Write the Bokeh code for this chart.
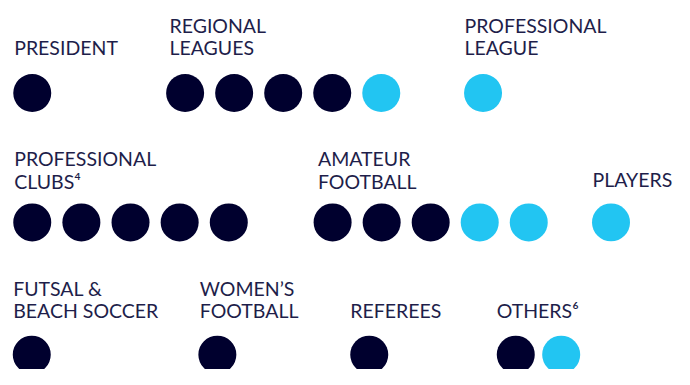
from bokeh.plotting import figure
from bokeh.models import Range1d, ColumnDataSource
from bokeh.core.properties import value
from bokeh.embed import file_html
from bokeh.resources import INLINE

# ---- data ----
categories = ["PRESIDENT", "REGIONAL\nLEAGUES", "PROFESSIONAL\nLEAGUE",
              "PROFESSIONAL\nCLUBS\u2074", "AMATEUR\nFOOTBALL", "PLAYERS",
              "FUTSAL &\nBEACH SOCCER", "WOMEN\u2019S\nFOOTBALL", "REFEREES", "OTHERS\u2076"]
dark_seats = [1, 4, 0, 5, 3, 0, 1, 1, 1, 1]
light_seats = [0, 1, 1, 0, 2, 1, 0, 0, 0, 1]

# ---- layout (reference-image pixel coordinates, 690 x 385) ----
group_row = [0, 0, 0, 1, 1, 1, 2, 2, 2, 2]
group_x = [32.5, 189, 494, 32.5, 340, 625, 32, 222, 377.5, 527.5]   # first dot centre
dot_step = [50.2, 50.2, 50.2, 50.3, 50.2, 50.2, 50.2, 50.2, 50.2, 46.5]
label_x = [14, 173, 475, 14, 325, 606, 13, 204, 358, 508]
label_dy = [0, 0, 0, 0, 0, -2, 0, 0, 0, 0]
row_dot_y = [96.5, 231.5, 369.5]
row_base_y = [49.5, 188.5, 323.5]
line_gap = 23.5

DARK = "#00002e"
LIGHT = "#22c5f2"
TEXT = "#1e1e4a"

dx, dy, dc = [], [], []
tx, ty, tt = [], [], []
for i, cat in enumerate(categories):
    r = group_row[i]
    for k in range(dark_seats[i] + light_seats[i]):
        dx.append(group_x[i] + k * dot_step[i])
        dy.append(row_dot_y[r])
        dc.append(DARK if k < dark_seats[i] else LIGHT)
    lines = cat.split("\n")
    for j, ln in enumerate(lines):
        tx.append(label_x[i])
        ty.append(row_base_y[r] + label_dy[i] - (len(lines) - 1 - j) * line_gap)
        tt.append(ln)

p = figure(width=674, height=369, output_backend="svg", toolbar_location=None,
           x_range=Range1d(0, 690), y_range=Range1d(385, 0), min_border=0)
p.axis.visible = False
p.grid.visible = False
p.outline_line_color = None
p.background_fill_color = "white"
p.border_fill_color = "white"

p.scatter(x="x", y="y", color="c", size=38, line_color=None,
          source=ColumnDataSource(dict(x=dx, y=dy, c=dc)))
p.text(x="x", y="y", text="t", source=ColumnDataSource(dict(x=tx, y=ty, t=tt)),
       text_font=value("Lato"), text_font_size="19.5px", text_color=TEXT,
       text_baseline="alphabetic", text_align="left")

open("out.html", "w").write(file_html(p, INLINE))
